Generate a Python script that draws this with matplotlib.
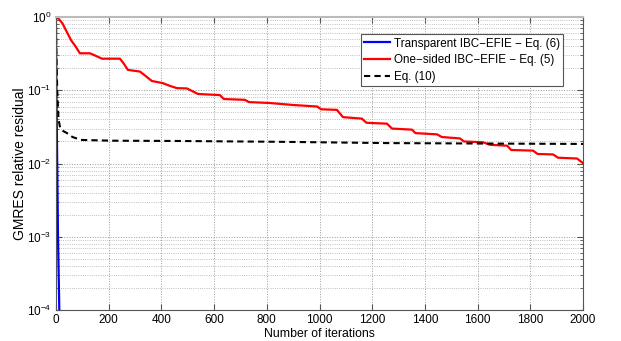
import matplotlib
matplotlib.use('Agg')
import matplotlib.pyplot as plt

# Residual history (iteration, relative residual)
transparent_iter = [0, 2, 5, 8, 13]
transparent_res = [1.0, 0.1, 0.01, 0.001, 0.0001]

onesided_iter = [0, 10, 25, 42, 58, 74, 91, 129, 147, 175, 243, 258, 273, 319, 342,
                 364, 406, 432, 459, 497, 539, 622, 637, 717, 732, 812, 899, 991,
                 1006, 1066, 1089, 1161, 1178, 1256, 1275, 1351, 1364, 1446, 1464,
                 1533, 1548, 1620, 1647, 1712, 1727, 1810, 1827, 1886, 1905, 1977,
                 2000]
onesided_res = [1.0, 0.95, 0.82, 0.62, 0.48, 0.40, 0.32, 0.32, 0.30, 0.27, 0.27, 0.23,
                0.19, 0.18, 0.155, 0.134, 0.125, 0.115, 0.107, 0.106, 0.089, 0.086,
                0.076, 0.074, 0.069, 0.067, 0.063, 0.060, 0.055, 0.054, 0.043, 0.041,
                0.036, 0.035, 0.030, 0.029, 0.026, 0.025, 0.023, 0.022, 0.020, 0.0195,
                0.018, 0.0175, 0.0153, 0.015, 0.0135, 0.0133, 0.012, 0.0117, 0.0101]

eq10_iter = [0, 2, 5, 10, 16, 26, 42, 63, 95, 210, 470, 840, 1260, 1680, 2000]
eq10_res = [1.0, 0.3, 0.1, 0.04, 0.031, 0.028, 0.026, 0.023, 0.021, 0.0205, 0.0203,
            0.0198, 0.019, 0.0187, 0.0185]

xticks = list(range(0, 2001, 200))

plt.rcParams['font.family'] = 'Liberation Sans'
plt.rcParams['mathtext.default'] = 'regular'
plt.rcParams['font.size'] = 8.5

fig = plt.figure(figsize=(6.21, 3.41), dpi=100)
ax = fig.add_axes([0.090, 0.091, 0.849, 0.859])

ax.semilogy(transparent_iter, transparent_res, color='blue', lw=1.6,
            label='Transparent IBC\u2212EFIE \u2212 Eq. (6)')
ax.semilogy(onesided_iter, onesided_res, color='red', lw=1.6,
            label='One\u2212sided IBC\u2212EFIE \u2212 Eq. (5)')
ax.semilogy(eq10_iter, eq10_res, color='black', lw=1.5, ls=(0, (3, 2)),
            label='Eq. (10)')

ax.set_xlim(0, 2000)
ax.set_ylim(1e-4, 1)
ax.set_xticks(xticks)
ax.set_xlabel('Number of iterations', labelpad=1, fontsize=8.8)
ax.set_ylabel('GMRES relative residual', fontsize=10)
ax.yaxis.set_label_coords(-0.055, 0.5)

# MATLAB-like look: inward ticks on all sides, dotted grid
ax.tick_params(which='both', direction='in', top=True, right=True, color='#555555')
ax.tick_params(which='major', length=4, pad=3)
ax.tick_params(which='minor', length=2)
ax.grid(True, which='major', ls=':', color='#999999', lw=0.7)
ax.grid(True, which='minor', axis='y', ls=':', color='#aaaaaa', lw=0.6)
for side in ['left', 'right', 'bottom']:
    ax.spines[side].set_color('#555555')
ax.spines['top'].set_color('#bbbbbb')
ax.spines['top'].set_linewidth(1.5)

leg = ax.legend(loc='upper right', bbox_to_anchor=(0.962, 0.942), borderaxespad=0,
                fancybox=False, framealpha=1, edgecolor='#555555', handlelength=2.2,
                handletextpad=0.3, borderpad=0.3, labelspacing=0.4, fontsize=8.4)
leg.get_frame().set_linewidth(0.8)

fig.savefig('out.png', dpi=100)
